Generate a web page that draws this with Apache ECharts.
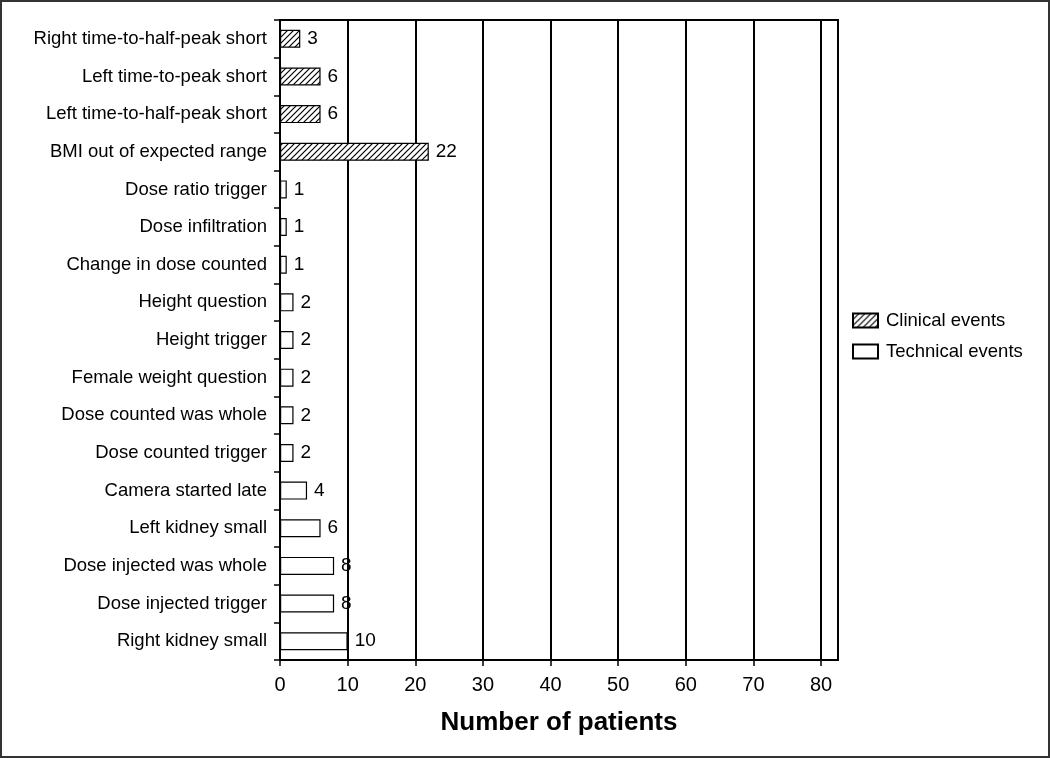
<!DOCTYPE html>
<html><head><meta charset="utf-8">
<script src="https://cdn.jsdelivr.net/npm/echarts@6/dist/echarts.min.js"></script>
<style>html,body{margin:0;padding:0;background:#fff}#c{width:1050px;height:758px}</style>
</head><body><div id="c"></div>
<script>
const categories = [
  "Right time-to-half-peak short","Left time-to-peak short","Left time-to-half-peak short",
  "BMI out of expected range","Dose ratio trigger","Dose infiltration","Change in dose counted",
  "Height question","Height trigger","Female weight question","Dose counted was whole",
  "Dose counted trigger","Camera started late","Left kidney small","Dose injected was whole",
  "Dose injected trigger","Right kidney small"
];
const clinical = [3,6,6,22,null,null,null,null,null,null,null,null,null,null,null,null,null];
const technical = [null,null,null,null,1,1,1,2,2,2,2,2,4,6,8,8,10];
const xTicks = [0,10,20,30,40,50,60,70,80];

function hatch(){
  const c = document.createElement('canvas');
  c.width = 6; c.height = 6;
  const g = c.getContext('2d');
  g.fillStyle = '#fff'; g.fillRect(0,0,6,6);
  g.strokeStyle = '#000'; g.lineWidth = 1.2;
  g.beginPath();
  g.moveTo(-1,7); g.lineTo(7,-1);
  g.moveTo(-4,4); g.lineTo(4,-4);
  g.moveTo(2,10); g.lineTo(10,2);
  g.stroke();
  return c;
}
const pat = {image: hatch(), repeat: 'repeat'};
const chart = echarts.init(document.getElementById('c'));
const font = 'Liberation Sans, Arial, sans-serif';
const lbl = {show:true, position:'right', distance:7, color:'#000', fontSize:19, fontFamily:font};
chart.setOption({
  animation:false,
  backgroundColor:'#fff',
  graphic:[{type:'rect', shape:{x:1,y:1,width:1048,height:756}, style:{fill:'none', stroke:'#333', lineWidth:2}}],
  grid:{left:280, right:212, top:20, bottom:98, show:true, borderColor:'#000', borderWidth:2, backgroundColor:'transparent'},
  legend:{orient:'vertical', left:847, top:306, itemWidth:25, itemHeight:14, itemGap:12, icon:'rect',
    textStyle:{fontSize:18.5, fontFamily:font, color:'#000', padding:[0,0,0,3]},
    data:['Clinical events','Technical events']},
  xAxis:{type:'value', min:0, max:82.5, interval:10,
    axisLine:{show:true, lineStyle:{color:'#000', width:2}},
    axisTick:{show:true, length:6, lineStyle:{color:'#000', width:1.5}},
    axisLabel:{fontSize:20, fontFamily:font, color:'#000', margin:15, showMaxLabel:false,
      formatter:v => xTicks.includes(v) ? String(v) : ''},
    splitLine:{show:true, lineStyle:{color:'#000', width:2}},
    name:'Number of patients', nameLocation:'middle', nameGap:50,
    nameTextStyle:{fontSize:26, fontWeight:'bold', fontFamily:font, color:'#000'}},
  yAxis:{type:'category', data:categories, inverse:true,
    axisLine:{show:true, lineStyle:{color:'#000', width:2}},
    axisTick:{show:true, length:6, lineStyle:{color:'#000', width:1.5}},
    axisLabel:{fontSize:18.5, fontFamily:font, color:'#000', margin:13},
    splitLine:{show:false}},
  series:[
    {name:'Clinical events', type:'bar', stack:'s', data:clinical, barWidth:18,
      itemStyle:{color:pat, borderColor:'#000', borderWidth:1.2}, label:lbl},
    {name:'Technical events', type:'bar', stack:'s', data:technical, barWidth:18,
      itemStyle:{color:'#fff', borderColor:'#000', borderWidth:1.2}, label:lbl}
  ]
});
</script></body></html>
